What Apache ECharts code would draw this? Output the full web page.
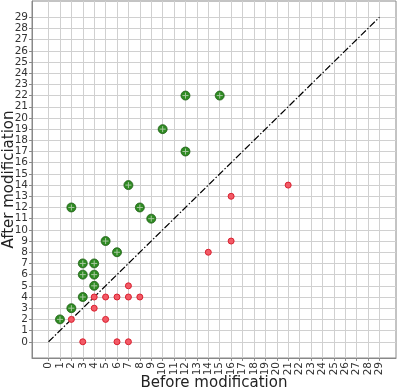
<!DOCTYPE html>
<html>
<head>
<meta charset="utf-8">
<script src="https://cdn.jsdelivr.net/npm/echarts@6/dist/echarts.min.js"></script>
<style>html,body{margin:0;padding:0;background:#fff;}#c{width:400px;height:388px;}</style>
</head>
<body>
<div id="c"></div>
<script>
const labelValues = [];
for (let i = 0; i <= 29; i++) labelValues.push(i);

const improvedPoints = [
  [1,2],[2,3],[2,12],[3,4],[3,6],[3,7],[4,5],[4,6],[4,7],[5,9],[6,8],
  [7,14],[8,12],[9,11],[10,19],[12,17],[12,22],[15,22]
];
const worsenedPoints = [
  [2,2],[3,0],[4,3],[4,4],[5,2],[5,4],[6,0],[6,4],[7,0],[7,4],[7,5],[8,4],
  [14,8],[16,9],[16,13],[21,14]
];
const diagonal = [[0,0],[29,29]];

const chart = echarts.init(document.getElementById('c'), null, {renderer:'canvas'});
const font = 'DejaVu Sans';
function axis(name, rotate, nameGap) {
  return {
    type: 'value', min: -1.45, max: 30.45,
    name: name, nameLocation: 'middle', nameGap: nameGap, nameMoveOverlap: false,
    nameTextStyle: {fontFamily: font, fontSize: 15, color: '#222'},
    axisLine: {show: true, onZero: false, lineStyle: {color: '#888', width: 1}},
    axisTick: {show: true, length: 3, customValues: labelValues, lineStyle: {color: '#888'}},
    axisLabel: {customValues: labelValues, rotate: rotate, fontFamily: font, fontSize: 10.5, color: '#333', margin: 4,
                showMinLabel: true, showMaxLabel: true, hideOverlap: false},
    splitLine: {show: true, lineStyle: {color: '#d0d0d0', width: 1}},
    minorTick: {show: false}
  };
}
const xA = axis('Before modification', 90, 18);
const yA = axis('After modificiation', 0, 15.5);

chart.setOption({
  animation: false,
  grid: {left: 32, right: 4, top: 1, bottom: 30, show: true, borderColor: '#888', borderWidth: 1,
         containLabel: false, outerBoundsMode: 'none'},
  xAxis: xA,
  yAxis: yA,
  series: [
    {type: 'line', data: diagonal, symbol: 'none', z: 2,
     lineStyle: {color: '#000', width: 1.2, type: [7,2,1.5,2]}},
    {type: 'scatter', data: improvedPoints, symbol: 'circle', symbolSize: 9, z: 3,
     itemStyle: {color: '#2e8b22', borderColor: '#1f5e17', borderWidth: 0.8, opacity: 1}},
    {type: 'scatter', data: improvedPoints, symbol: 'path://M0,5L10,5M5,0L5,10', symbolSize: 6, z: 4,
     itemStyle: {color: 'none', borderColor: '#a8c8a0', borderWidth: 1, opacity: 1}},
    {type: 'scatter', data: worsenedPoints, symbol: 'circle', symbolSize: 6, z: 5,
     itemStyle: {color: '#f25a66', borderColor: '#d9202f', borderWidth: 1, opacity: 1}}
  ]
});
</script>
</body>
</html>
